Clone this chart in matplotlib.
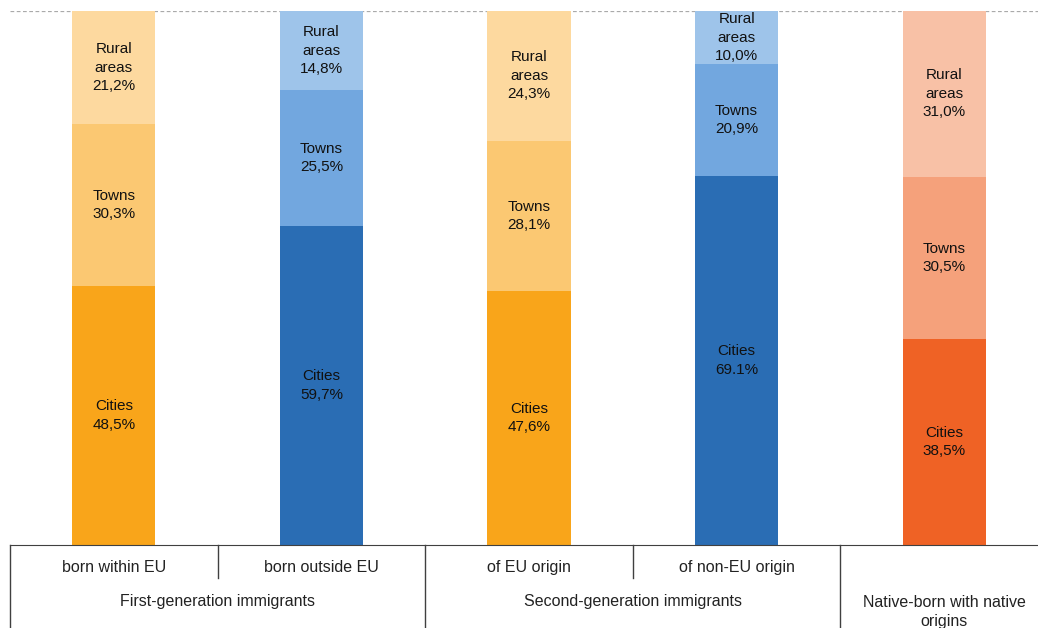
import matplotlib
matplotlib.use("Agg")
import matplotlib.pyplot as plt

plt.rcParams['font.family'] = ['Liberation Sans', 'DejaVu Sans']

# data
groups = ['born within EU', 'born outside EU', 'of EU origin', 'of non-EU origin', '']
cities = [48.5, 59.7, 47.6, 69.1, 38.5]
towns = [30.3, 25.5, 28.1, 20.9, 30.5]
rural = [21.2, 14.8, 24.3, 10.0, 31.0]
cities_txt = ['48,5%', '59,7%', '47,6%', '69.1%', '38,5%']
towns_txt = ['30,3%', '25,5%', '28,1%', '20,9%', '30,5%']
rural_txt = ['21,2%', '14,8%', '24,3%', '10,0%', '31,0%']
supergroups = ['First-generation immigrants', 'Second-generation immigrants',
               'Native-born with native\norigins']

orange = ['#F9A51A', '#FBC872', '#FDD99F']
blue = ['#2A6DB4', '#72A7DF', '#9EC4EA']
red = ['#EF6225', '#F5A17B', '#F8C1A6']
palette = [orange, blue, orange, blue, red]

fig = plt.figure(figsize=(10.38, 6.28), dpi=100)
ax = fig.add_axes([10/1038, 83/628, 1038/1038, 534/628])

x = range(len(cities))
w = 0.4
for i in x:
    c = palette[i]
    ax.bar(i, cities[i], w, color=c[0])
    ax.bar(i, towns[i], w, bottom=cities[i], color=c[1])
    ax.bar(i, rural[i], w, bottom=cities[i] + towns[i], color=c[2])
    ax.text(i, cities[i] / 2, 'Cities\n' + cities_txt[i], ha='center', va='center',
            fontsize=11, linespacing=1.4, color='#111111')
    ax.text(i, cities[i] + towns[i] / 2, 'Towns\n' + towns_txt[i], ha='center',
            va='center', fontsize=11, linespacing=1.4, color='#111111')
    ax.text(i, cities[i] + towns[i] + rural[i] / 2, 'Rural\nareas\n' + rural_txt[i],
            ha='center', va='center', fontsize=11, linespacing=1.4, color='#111111')

ax.axhline(100, color='#AAAAAA', lw=0.9, ls=(0, (3, 2)), zorder=0)
ax.set_xlim(-0.5, 4.5)
ax.set_ylim(0, 100)
for s in ['top', 'right', 'left']:
    ax.spines[s].set_visible(False)
ax.spines['bottom'].set_color('#404040')
ax.set_xticks([])
ax.set_yticks([])

# table-style category axis under the bars
tr = ax.get_xaxis_transform()
lc = '#404040'
for xv in [-0.5, 1.5, 3.5]:
    ax.plot([xv, xv], [0, -0.16], color=lc, lw=1, transform=tr, clip_on=False)
for xv in [0.5, 2.5]:
    ax.plot([xv, xv], [0, -0.062], color=lc, lw=1, transform=tr, clip_on=False)
for i, g in enumerate(groups):
    ax.text(i, -0.043, g, ha='center', va='center', fontsize=11.5, color='#222222',
            transform=tr)
ax.text(0.5, -0.105, supergroups[0], ha='center', va='center', fontsize=11.5,
        color='#222222', transform=tr)
ax.text(2.5, -0.105, supergroups[1], ha='center', va='center', fontsize=11.5,
        color='#222222', transform=tr)
ax.text(4, -0.125, supergroups[2], ha='center', va='center', fontsize=11.5,
        color='#222222', linespacing=1.3, transform=tr)

fig.savefig('out.png', dpi=100)
